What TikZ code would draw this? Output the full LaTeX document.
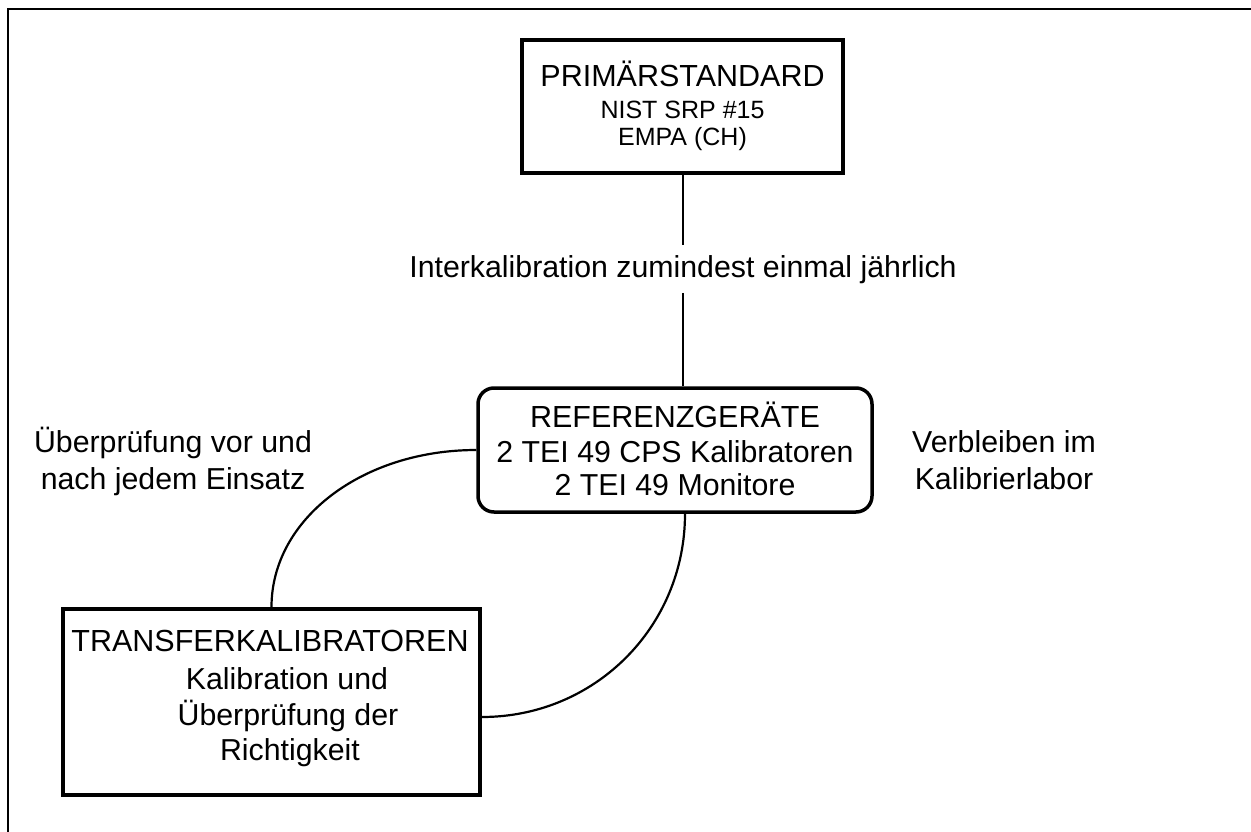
\documentclass[tikz,border=0pt]{standalone}
\usepackage{fontspec}
\setmainfont{Liberation Sans}
\tikzset{
  every picture/.style={x=1pt,y=-1pt},
  txt/.style={anchor=base, inner sep=0pt},
  conn/.style={line width=2.2pt},
}
\newcommand{\bigtxt}{\fontsize{30.5}{36}\selectfont}
\newcommand{\midtxt}{\fontsize{30.3}{36}\selectfont}
\newcommand{\smltxt}{\fontsize{25}{30}\selectfont}
\begin{document}
\begin{tikzpicture}
\useasboundingbox (0,0) rectangle (1251,832);
\draw[line width=2.2pt] (8,832) -- (8,9) -- (1251,9);
% boxes
\node[draw, line width=4pt, minimum width=321pt, minimum height=133pt, inner sep=0pt] (prim) at (682.5,106.5) {};
\node[draw, line width=3.5pt, rounded corners=16pt, minimum width=394pt, minimum height=124pt, inner sep=0pt] (ref) at (675,450) {};
\node[draw, line width=4pt, minimum width=417pt, minimum height=186pt, inner sep=0pt] (trans) at (271.5,702) {};
% texts
\node[txt] (p1) at (682.5,86.7) {\bigtxt PRIMÄRSTANDARD};
\node[txt] (p2) at (682.5,118.3) {\smltxt NIST SRP \#15};
\node[txt] (p3) at (682.5,145.5) {\smltxt EMPA (CH)};
\node[txt] (r1) at (675,427) {\bigtxt REFERENZGERÄTE};
\node[txt] (r2) at (675,462.7) {\midtxt 2 TEI 49 CPS Kalibratoren};
\node[txt] (r3) at (675,495) {\midtxt 2 TEI 49 Monitore};
\node[txt] (t1) at (270,651.7) {\bigtxt TRANSFERKALIBRATOREN};
\node[txt] (t2) at (287,689) {\midtxt Kalibration und};
\node[txt] (t3) at (288,725) {\midtxt Überprüfung der};
\node[txt] (t4) at (290,760) {\midtxt Richtigkeit};
\node[inner xsep=0pt, inner ysep=9.5pt, anchor=base] (mid) at (683,277) {\midtxt Interkalibration zumindest einmal jährlich};
\node[txt] (l1) at (173,452) {\midtxt Überprüfung vor und};
\node[txt] (l2) at (173,489) {\midtxt nach jedem Einsatz};
\node[txt] (v1) at (1004,452) {\midtxt Verbleiben im};
\node[txt] (v2) at (1004,489) {\midtxt Kalibrierlabor};
% connectors
\draw[conn] (prim.south -| mid.base) -- (mid.north);
\draw[conn] (mid.south) -- (mid.base |- ref.north);
\coordinate (rs) at ([xshift=10pt]ref.south);
\coordinate (te) at ([yshift=-15pt]trans.east);
\draw[conn] (ref.west) .. controls +(-114,0) and +(0,-88) .. (trans.north);
\draw[conn] (rs) .. controls +(0,113) and +(113,0) .. (te);
\end{tikzpicture}
\end{document}
